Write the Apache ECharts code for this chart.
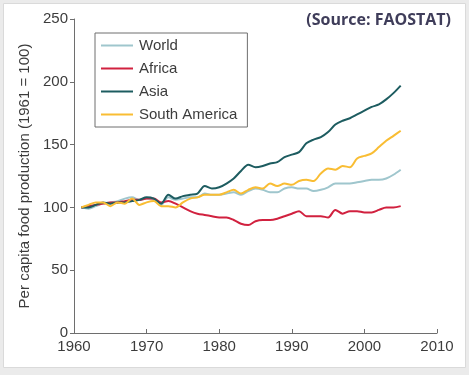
<!DOCTYPE html>
<html>
<head>
<meta charset="utf-8">
<title>Per capita food production</title>
<script src="https://cdn.jsdelivr.net/npm/echarts@6/dist/echarts.min.js"></script>
<style>
  html, body { margin: 0; padding: 0; background: #ebebeb; }
  #main { width: 469px; height: 375px; }
</style>
</head>
<body>
<div id="main"></div>
<script>
// years 1961..2005
var years = [];
for (var y = 1961; y <= 2005; y++) years.push(y);

var world = [100, 99, 101, 103, 104, 105, 107, 108, 106, 107,
             106, 102, 108, 106, 107, 108, 108, 111, 110, 110,
             111, 112, 110, 113, 115, 114, 112, 112, 115, 116,
             115, 115, 113, 114, 116, 119, 119, 119, 120, 121,
             122, 122, 123, 126, 130];
var africa = [100, 101, 102, 103, 104, 104, 105, 106, 106, 107,
              107, 104, 105, 103, 100, 97, 95, 94, 93, 92,
              92, 90, 87, 86, 89, 90, 90, 91, 93, 95,
              97, 93, 93, 93, 92, 98, 95, 97, 97, 96,
              96, 98, 100, 100, 101];
var asia = [100, 100, 102, 104, 103, 104, 104, 105, 106, 108,
            107, 103, 110, 107, 109, 110, 111, 117, 115, 116,
            119, 123, 129, 134, 132, 133, 135, 136, 140, 142,
            144, 151, 154, 156, 160, 166, 169, 171, 174, 177,
            180, 182, 186, 191, 197];
var southAmerica = [100, 102, 104, 104, 101, 104, 103, 107, 102, 104,
                    105, 101, 101, 100, 104, 107, 108, 110, 110, 110,
                    112, 114, 111, 114, 116, 115, 119, 117, 119, 118,
                    121, 122, 121, 127, 131, 130, 133, 132, 139, 141,
                    143, 148, 153, 157, 161];

var seriesNames = ['World', 'Africa', 'Asia', 'South America'];
var seriesColors = ['#9fc6cd', '#d1213f', '#1d5c60', '#f9bd33'];
var seriesValues = [world, africa, asia, southAmerica];

function pairs(vals) {
    var out = [];
    for (var i = 0; i < years.length; i++) out.push([years[i], vals[i]]);
    return out;
}

var series = [];
for (var s = 0; s < seriesNames.length; s++) {
    series.push({
        name: seriesNames[s],
        type: 'line',
        data: pairs(seriesValues[s]),
        smooth: 0.3,
        symbol: 'none',
        lineStyle: { width: 2, color: seriesColors[s] },
        itemStyle: { color: seriesColors[s] }
    });
}

var textColor = '#3c3c3c';
var axisColor = '#6e6e6e';

var chart = echarts.init(document.getElementById('main'));
chart.setOption({
    backgroundColor: '#ebebeb',
    animation: false,
    graphic: [{
        type: 'rect',
        silent: true,
        z: -10,
        shape: { x: 3.5, y: 3.5, width: 462, height: 364 },
        style: { fill: '#ffffff', stroke: '#dadada', lineWidth: 1 }
    }],
    title: {
        text: '(Source: FAOSTAT)',
        right: 13,
        top: 7,
        textStyle: {
            fontFamily: 'Open Sans',
            fontWeight: 'bold',
            fontSize: 16,
            color: '#3f3d5a'
        }
    },
    legend: {
        data: seriesNames,
        orient: 'vertical',
        left: 95,
        top: 33,
        padding: [5, 10, 5, 6],
        itemGap: 8,
        itemWidth: 32,
        itemHeight: 2,
        icon: 'rect',
        borderColor: '#6e6e6e',
        borderWidth: 1,
        textStyle: {
            fontFamily: 'Liberation Sans',
            fontSize: 15,
            lineHeight: 15,
            color: textColor,
            padding: [0, 0, 0, 1]
        }
    },
    grid: { left: 74, right: 32, top: 19, bottom: 42, containLabel: false },
    xAxis: {
        type: 'value',
        min: 1960,
        max: 2010,
        interval: 10,
        axisLine: { lineStyle: { color: axisColor, width: 1 } },
        axisTick: { inside: true, length: 4, lineStyle: { color: axisColor } },
        splitLine: { show: false },
        axisLabel: {
            fontFamily: 'Liberation Sans',
            fontSize: 15,
            color: textColor,
            margin: 6,
            formatter: function (v) { return String(v); }
        }
    },
    yAxis: {
        type: 'value',
        min: 0,
        max: 250,
        interval: 50,
        name: 'Per capita food production (1961 = 100)',
        nameLocation: 'middle',
        nameGap: 41,
        nameTextStyle: {
            fontFamily: 'Liberation Sans',
            fontSize: 15,
            color: textColor
        },
        axisLine: { show: true, lineStyle: { color: axisColor, width: 1 } },
        axisTick: { show: true, length: 4, lineStyle: { color: axisColor } },
        splitLine: { show: false },
        axisLabel: {
            fontFamily: 'Liberation Sans',
            fontSize: 15,
            color: textColor,
            margin: 6
        }
    },
    series: series
});
</script>
</body>
</html>
